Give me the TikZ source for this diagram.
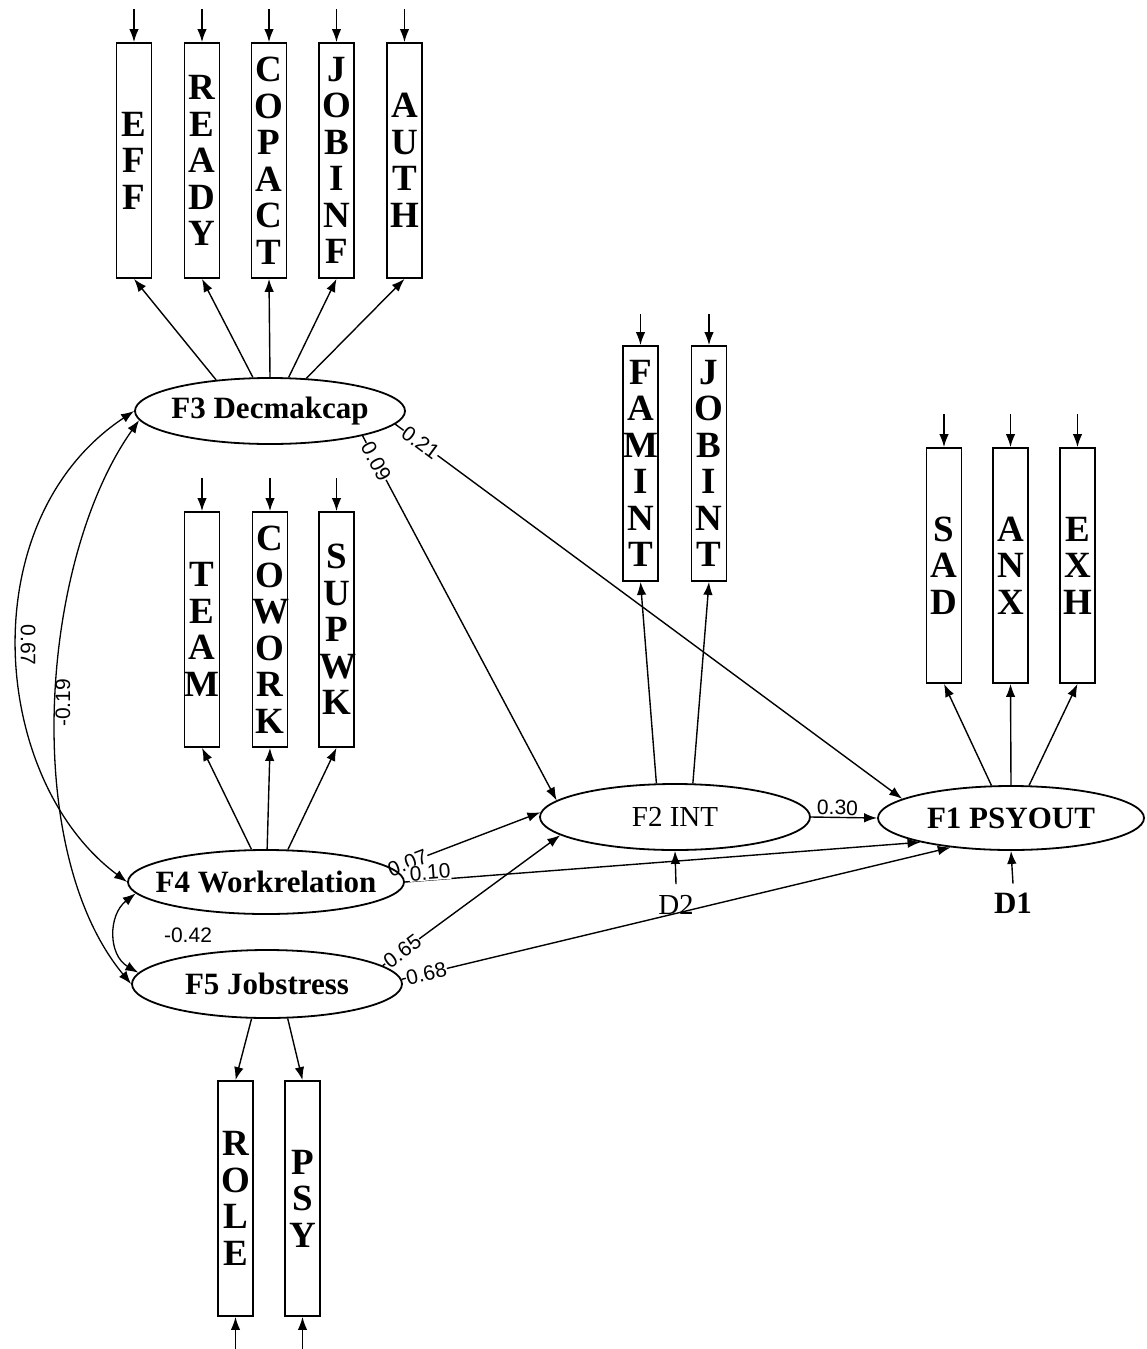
\documentclass[tikz,border=0pt]{standalone}
\usepackage{fontspec}
\setmainfont{Liberation Serif}
\newfontfamily\numfont{Liberation Sans}
\usetikzlibrary{shapes.geometric,arrows.meta}
\pgfdeclarelayer{bg}
\pgfsetlayers{bg,main}
\newcommand{\zw}[1]{\makebox[0pt]{#1}}
\begin{document}
\begin{tikzpicture}[x=1pt,y=-1pt,
  box/.style={draw, line width=1.8pt, rectangle, minimum width=35pt, minimum height=235pt,
    inner sep=0pt, text width=35pt, align=center,
    font={\fontsize{37}{36.5}\selectfont\bfseries}},
  lat/.style={draw, line width=1.8pt, ellipse, inner sep=0pt,
    font={\fontsize{31}{31}\selectfont\bfseries}},
  arr/.style={line width=1.4pt, -{Latex[length=13pt,width=9.5pt]}},
  cov/.style={line width=1.3pt, {Latex[length=13pt,width=9.5pt]}-{Latex[length=13pt,width=9.5pt]}},
  lab/.style={font={\numfont\fontsize{21}{21}\selectfont}, fill=white, inner sep=0.5pt, sloped},
  labfree/.style={font={\numfont\fontsize{21}{21}\selectfont}, inner sep=0.5pt},
  dtext/.style={inner sep=1pt}
]
\useasboundingbox (0,0) rectangle (1147,1349);

% indicator boxes
\node[box] (EFF)    at (134,160.5)   {E\\F\\F};
\node[box] (READY)  at (202,160.5)   {R\\E\\A\\D\\Y};
\node[box] (COPACT) at (269,160.5)   {C\\O\\P\\A\\C\\T};
\node[box] (JOBINF) at (336.5,160.5) {J\\O\\B\\I\\N\\F};
\node[box] (AUTH)   at (404.5,160.5) {A\\U\\T\\H};

\node[box] (TEAM)   at (202,629.5)   {T\\E\\A\\M};
\node[box] (COWORK) at (270,629.5)   {C\\O\\W\\O\\R\\K};
\node[box] (SUPWK)  at (336.5,629.5) {S\\U\\P\\W\\K};

\node[box] (FAMINT) at (640.5,463.5) {F\\A\\M\\I\\N\\T};
\node[box] (JOBINT) at (709,463.5)   {J\\O\\B\\I\\N\\T};

\node[box] (SAD) at (944,565.5)    {S\\A\\D};
\node[box] (ANX) at (1010.5,565.5) {A\\N\\X};
\node[box] (EXH) at (1077.5,565.5) {E\\X\\H};

\node[box] (ROLE) at (235.5,1198.5) {R\\O\\L\\E};
\node[box] (PSY)  at (302.5,1198.5) {P\\S\\Y};

% latent factors
\node[lat, minimum width=270pt, minimum height=66pt] (F3) at (270,411) {\zw{F3 Decmakcap}};
\node[lat, minimum width=276pt, minimum height=64pt] (F4) at (266,882) {\zw{F4 Workrelation}};
\node[lat, minimum width=270pt, minimum height=68pt] (F5) at (267,984) {\zw{F5 Jobstress}};
\node[lat, minimum width=270pt, minimum height=66pt,
      font={\fontsize{29}{29}\selectfont}] (F2) at (675,817) {\zw{F2 INT}};
\node[lat, minimum width=266pt, minimum height=64pt] (F1) at (1011,818) {\zw{F1 PSYOUT}};

% disturbances
\node[dtext, font={\fontsize{29}{29}\selectfont}] (D2) at (676,905) {D2};
\node[dtext, font={\fontsize{31}{31}\selectfont\bfseries}] (D1) at (1013,903) {D1};

% labels of correlations
\node[labfree, rotate=-90] (l067) at (28,645) {0.67};
\node[labfree, rotate=90]  (l019) at (63,703) {-0.19};
\node[labfree] (l042) at (188,935) {-0.42};

\begin{pgfonlayer}{bg}
\fill[white] (0,0) rectangle (1147,1349);
% error arrows
\foreach \b in {EFF,READY,COPACT,JOBINF,AUTH,TEAM,COWORK,SUPWK,SAD,ANX,EXH}
  \draw[arr] ([yshift=33pt]\b.north) -- (\b.north);
\foreach \b in {FAMINT,JOBINT}
  \draw[arr] ([yshift=31pt]\b.north) -- (\b.north);
\foreach \b in {ROLE,PSY}
  \draw[arr] ([yshift=-34pt]\b.south) -- (\b.south);

% loadings
\draw[arr] (F3.150) -- (EFF.south);
\draw[arr] (F3.117) -- (READY.south);
\draw[arr] (F3.90)  -- (COPACT.south);
\draw[arr] (F3.61)  -- (JOBINF.south);
\draw[arr] (F3.42)  -- (AUTH.south);

\draw[arr] (F4.114) -- (TEAM.south);
\draw[arr] (F4.88)  -- (COWORK.south);
\draw[arr] (F4.56)  -- (SUPWK.south);

\draw[arr] (F5.246) -- (ROLE.north);
\draw[arr] (F5.301) -- (PSY.north);

\draw[arr] (F2.119) -- (FAMINT.south);
\draw[arr] (F2.62)  -- (JOBINT.south);

\draw[arr] (F1.121) -- (SAD.south);
\draw[arr] (F1.90)  -- (ANX.south);
\draw[arr] (F1.61)  -- (EXH.south);

% structural paths
\draw[arr] (F3.-15) -- node[lab,pos=0.07]{0.09} (F2.172);
\draw[arr] (F3.-6)  -- node[lab,pos=0.05]{0.21} (F1.170);
\draw[arr] (F4.6)   -- node[lab,pos=0.1]{0.07} (F2.178);
\draw[arr] (F4.0)   -- node[lab,pos=0.05,above=-1pt]{0.10} (F1.195);
\draw[arr] (F5.9)   -- node[lab,pos=0.11]{0.65} (F2.189);
\draw[arr] (F5.2)   -- node[lab,pos=0.045]{0.68} (F1.206);
\draw[arr] (F2.east) -- node[lab,pos=0.4,above=1pt,fill=none]{0.30} (F1.west);

\draw[arr] ([yshift=10pt]D2.north) -- (F2.south);
\draw[arr] ([yshift=8pt]D1.north) -- (F1.south);

% correlations
\draw[cov] (F3.west) .. controls (-30,520) and (-10,780) .. (F4.west);
\draw[cov] (F3.184) .. controls (40,560) and (20,850) .. (F5.west);
\draw[cov] (F4.185) .. controls (108,915) and (108,955) .. (F5.175);
\end{pgfonlayer}
\end{tikzpicture}
\end{document}
